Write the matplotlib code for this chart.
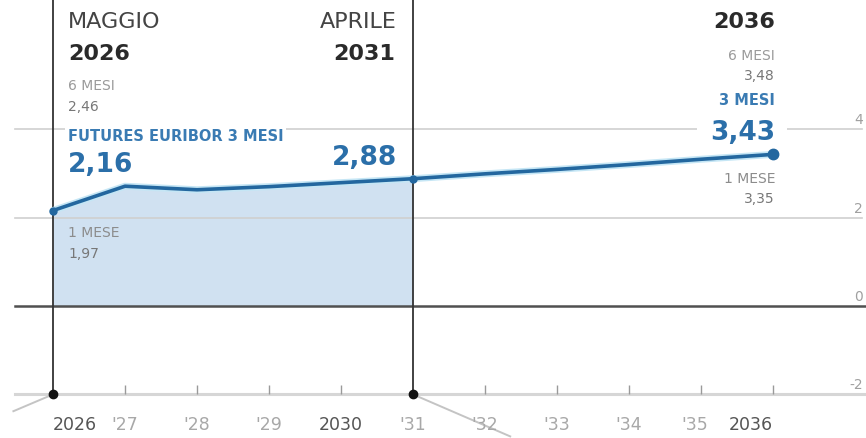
import matplotlib
matplotlib.use("Agg")
import matplotlib.pyplot as plt
import matplotlib.patheffects as pe
import matplotlib.transforms as mtransforms
import numpy as np

# data
years = np.arange(11)
year_labels = ["2026", "'27", "'28", "'29", "2030", "'31", "'32", "'33", "'34", "'35", "2036"]
futures_3m = [2.16, 2.71, 2.63, 2.70, 2.79, 2.88, 2.99, 3.09, 3.20, 3.32, 3.43]
y_ticks = [4, 2, 0, -2]
mark_idx = [0, 5]

BLUE = "#23679f"
BLUE_TXT = "#2b6fa9"
FILL = "#d0e1f1"
DARK = "#2a2a2a"

W, H = 866, 439
fig = plt.figure(figsize=(W / 100, H / 100), dpi=100)
ax = fig.add_axes([0, 0, 1, 1])
ax.set_xlim(-53 / 72, (W - 53) / 72)
ax.set_ylim((307 - H) / 44.2, 307 / 44.2)
ax.axis("off")


def px(x, y):
    # figure pixel (from top-left) -> figure fraction
    return x / W, 1 - y / H


def txt(x, y, s, **kw):
    kw.setdefault("zorder", 5)
    return ax.text(*px(x, y), s, va="baseline", transform=fig.transFigure, **kw)


# gridlines
x0f = 15 / W
ax.axhline(4, x0f, 1 - 4 / W, color="#cfcfcf", lw=1.2, zorder=1)
ax.axhline(2, x0f, 1 - 4 / W, color="#cfcfcf", lw=1.2, zorder=1)
ax.axhline(0, x0f, 1, color="#505050", lw=1.8, zorder=3)
ax.axhline(-2, x0f, 1, color="#d6d6d6", lw=2.2, zorder=1)

# axis ticks
ax.vlines([t for t in years if t not in mark_idx], -2, -1.78, color="#9a9a9a", lw=1, zorder=2)

# fill under first 5 years
xf = years[:6]
ax.fill_between(xf, 0, futures_3m[:6], color=FILL, lw=0, zorder=0)

# vertical marker lines
ylo, yhi = ax.get_ylim()
for i in mark_idx:
    ax.axvline(i, ymin=(-2 - ylo) / (yhi - ylo), ymax=1,
               color="#333333", lw=1.3, zorder=4)
ax.plot(mark_idx, [-2] * len(mark_idx), "o", color="#111111", ms=6, zorder=6)

# decorative diagonals
ax.plot([0, -0.55], [-2, -2.38], color="#c4c4c4", lw=1.4, zorder=1)
ax.plot([5, 6.35], [-2, -2.95], color="#c4c4c4", lw=1.4, zorder=1)

# main line
ax.plot(years, futures_3m, color=BLUE, lw=2.6, zorder=7, solid_capstyle="round",
        path_effects=[pe.Stroke(linewidth=5, foreground="#c5e6f5"), pe.Normal()])
ax.plot([0, 5], [futures_3m[0], futures_3m[5]], "o", color=BLUE, ms=5, zorder=8)
ax.plot([10], [futures_3m[10]], "o", color=BLUE, ms=7.5, zorder=8)

# y tick labels
for v in y_ticks:
    yp = 307 - 44.2 * v
    txt(863, yp - 6, str(v), ha="right", fontsize=10, color="#a0a0a0")

# x tick labels
blend = mtransforms.blended_transform_factory(ax.transData, fig.transFigure)
for i, lab in zip(years, year_labels):
    ha = "left" if i == 0 else ("right" if i == 10 else "center")
    col = "#555555" if not lab.startswith("'") else "#a8a8a8"
    ax.text(i - (0.08 if i == 9 else 0), 1 - 430 / H, lab, transform=blend, ha=ha,
            va="baseline", fontsize=12.5, color=col)

# left block
txt(68, 28, "MAGGIO", fontsize=16, color="#444444")
txt(68, 60, "2026", fontsize=16, color=DARK, fontweight="bold")
txt(68, 90, "6 MESI", fontsize=10, color="#9a9a9a")
txt(68, 111, "2,46", fontsize=10, color="#777777")
txt(68, 141, "FUTURES EURIBOR 3 MESI", fontsize=10.5, color="#3a7bb3",
    fontweight="bold", zorder=4,
    bbox=dict(facecolor="white", edgecolor="none", pad=2))
txt(68, 172, "2,16", fontsize=19, color=BLUE_TXT, fontweight="bold")
txt(68, 237, "1 MESE", fontsize=10, color="#8c8c8c")
txt(68, 258, "1,97", fontsize=10, color="#777777")

# middle block
txt(397, 28, "APRILE", ha="right", fontsize=16, color="#444444")
txt(395, 60, "2031", ha="right", fontsize=16, color=DARK, fontweight="bold")
txt(397, 165, "2,88", ha="right", fontsize=19, color=BLUE_TXT, fontweight="bold")

# right block
txt(775, 28, "2036", ha="right", fontsize=16, color=DARK, fontweight="bold")
txt(775, 60, "6 MESI", ha="right", fontsize=10, color="#9a9a9a")
txt(775, 80, "3,48", ha="right", fontsize=10, color="#777777")
txt(775, 105, "3 MESI", ha="right", fontsize=10.5, color="#3a7bb3", fontweight="bold")
txt(775, 140, "3,43", ha="right", fontsize=19, color=BLUE_TXT, fontweight="bold",
    zorder=4, bbox=dict(facecolor="white", edgecolor="none", pad=9))
txt(775, 183, "1 MESE", ha="right", fontsize=10, color="#8c8c8c")
txt(775, 203, "3,35", ha="right", fontsize=10, color="#777777")

fig.savefig("out.png", dpi=100, facecolor="white")
